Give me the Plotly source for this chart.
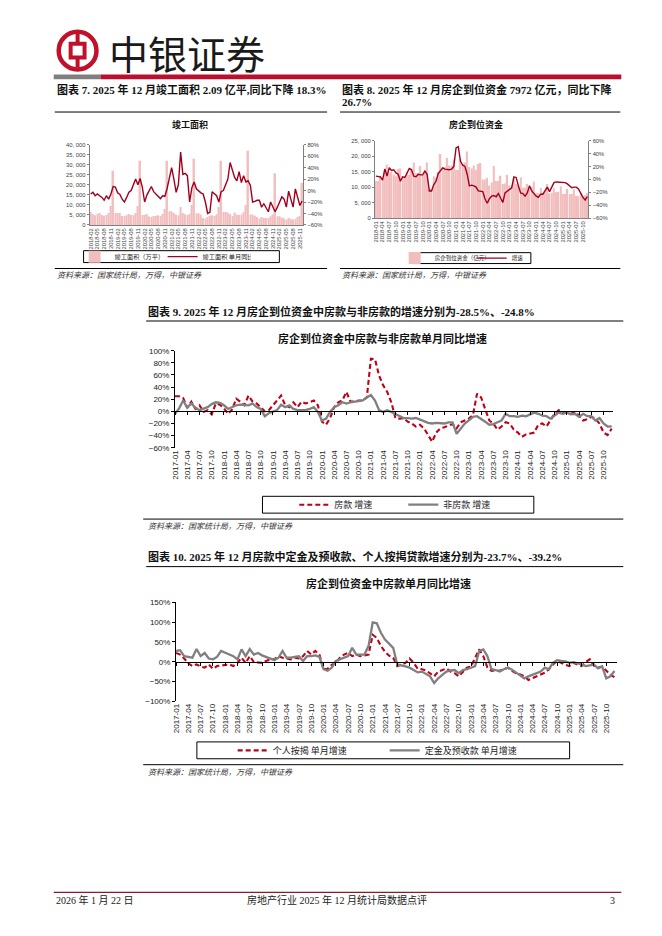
import plotly.graph_objects as go

W, H = 662, 936
OFF = 8  # page body margin compensation


def px(x):
    return (x - OFF) / W


def py(y):
    return 1 - (y - OFF) / H


def month_range(y0, m0, y1, m1):
    out = []
    y, m = y0, m0
    while (y, m) <= (y1, m1):
        out.append(f"{y}-{m:02d}")
        m += 1
        if m > 12:
            m = 1
            y += 1
    return out


# ---------------- data ----------------
months7 = month_range(2018, 2, 2025, 12)
area7 = [
    6500, 5500, 4800, 5600, 6000, 5000, 4600, 5000, 6000, 9500, 27000,
    6000, 6000, 6000, 4500, 4500, 4800, 5500, 5000, 5000, 6000, 9500, 32000,
    5000, 5000, 5500, 4200, 4000, 4500, 4500, 4800, 4400, 5500, 8000, 32000,
    6800, 6800, 6000, 5200, 4800, 9000, 6000, 5300, 5000, 5500, 10000, 33000,
    5800, 5800, 5200, 3500, 3200, 4000, 4400, 4800, 4500, 5300, 9000, 32000,
    6500, 6500, 6200, 5500, 4500, 6200, 5200, 5000, 5200, 6300, 10000, 37000,
    5200, 5200, 4600, 4000, 3200, 4000, 3400, 3400, 3500, 4300, 5200, 25800,
    4300, 4300, 3600, 3300, 2600, 3400, 3000, 2700, 3000, 3900, 4500, 20900,
]
yoy7 = [
    -6, -3, -9, -6, -9, -12, -17, -9, -15, -6, 7,
    6, -4, -7, -15, -20, -12, -3, 0, 12, 20, 10, 21,
    5, -20, -8, -1, 7, -2, -6, -10, -14, -9, -10, 4,
    20, 40, 20, -3, 10, 67, 28, 30, 26, -20, 5, 15,
    3, -1, -4, -6, -20, -40, -38, -2, -5, -9, -20, -2,
    0, 9, 20, 49, 35, 23, 17, 33, 14, 26, 15, 17,
    9, -20, -19, -17, -17, -29, -23, -30, -37, -20, -30, -37,
    -29, -20, -11, -15, -29, -1, -15, -29, 3, -10, -26, -18.3,
]

months8 = month_range(2018, 1, 2025, 12)
funds8 = [
    12000, 12000, 13500, 12500, 16000, 17300, 14500, 15000, 14000, 13500, 15800, 16000,
    13000, 13000, 15000, 14000, 16000, 18000, 14500, 14500, 16800, 14000, 15000, 18000,
    9500, 9500, 13500, 13000, 15000, 20700, 16500, 16500, 19500, 17000, 17000, 19000,
    15500, 15500, 19000, 17500, 18000, 21500, 16500, 16000, 17000, 15500, 17500, 17800,
    12500, 12500, 13000, 10500, 11500, 16800, 12000, 12000, 13700, 11000, 11200, 14000,
    10500, 10500, 13000, 11000, 10500, 13200, 9800, 9800, 11000, 9500, 10000, 11800,
    8000, 8000, 9700, 8200, 8700, 11000, 8000, 8200, 9600, 8300, 8500, 10300,
    7800, 7800, 9500, 7800, 7800, 9300, 7200, 7000, 8200, 7000, 7400, 7972,
]
yoy8 = [
    5, 5, 4, -1, 16, 5, 18, 14, 15, 10, 8, -3,
    4, 3, 10, 17, 15, 5, 4, 8, 7, 7, 13, 8,
    -18, -18, -8, -3, 9, 14, 18, 16, 15, 15, 16, 20,
    49, 51, 28, 22, 20, 8, -10, -9, -10, -12, -18, -19,
    -19, -30, -37, -30, -26, -25, -27, -22, -30, -36, -21, -18,
    -15, -13, 4, 3, -10, -21, -22, -26, -21, -10, -18, -23,
    -26, -28, -23, -23, -18, -12, -19, -13, -5, -4, -4, -4,
    -4, -5, -7, -10, -13, -12, -12, -15, -22, -28, -32, -26.7,
]

months9 = month_range(2017, 1, 2025, 12)
house_sales9 = [
    25, 25, 22, 6, 16, 4, 10, -1, 2, -5, 13, 11,
    5, -4, 3, 21, 16, 10, 26, 16, 13, 7, 0, 2,
    10, 18, 26, 10, 7, 15, 7, 16, 13, 15, 18, 10,
    -17, -22, -11, 7, 15, 18, 32, 16, 16, 18, 18, 23,
    87, 86, 59, 43, 32, 15, -11, -12, -11, -17, -20, -25,
    -22, -28, -38, -50, -35, -28, -26, -24, -21, -28, -18, -15,
    -12, -6, 29, 23, 2, -15, -20, -30, -25, -18, -20, -30,
    -35, -42, -38, -36, -35, -22, -20, -25, -15, -4, 2, -1,
    -2, -4, -1, -7, -15, -13, -9, -12, -20, -35, -39, -28.5,
]
non_house9 = [
    -4, 5, 18, 6, 13, 6, 2, 4, 7, 12, 15, 14,
    10, 4, 7, 10, 11, 10, 10, 13, 7, 4, -8, -3,
    -1, 2, 11, 7, 10, 4, 2, 2, 2, 4, 7, -1,
    -15, -12, -1, 7, 10, 15, 13, 15, 16, 17, 18, 23,
    27, 18, 2, -1, 2, -1, -4, -7, -11, -11, -12, -11,
    -13, -16, -19, -20, -19, -19, -20, -18, -18, -37, -28, -20,
    -15, -9, -8, -12, -17, -22, -21, -18, -15, -4, -8, -8,
    -9, -7, -8, -5, -2, -4, -7, -8, -12, -7, -2, -4,
    -2, -5, -4, -9, -4, -8, -8, -15, -11, -20, -25, -24.8,
]

months10 = month_range(2017, 1, 2025, 12)
mortgage10 = [
    22, 18, 8, -4, -11, -7, -12, -15, -7, -18, -11, -10,
    -9, -7, -11, -3, 10, -3, 14, -1, -2, -3, 2, 6,
    6, 14, 10, 8, 6, 10, 8, 14, 27, 18, 27, 18,
    -19, -18, -8, -3, 10, 18, 22, 14, 18, 14, 16, 18,
    68, 60, 40, 25, 15, 10, -11, -7, -3, 8, -3, -18,
    -19, -22, -29, -37, -25, -21, -17, -25, -29, -37, -25, -15,
    -12, 10, 31, 14, -15, -23, -22, -23, -19, -15, -23, -29,
    -32, -37, -46, -42, -37, -33, -28, -19, -7, 2, -4, -8,
    -11, -3, -7, -11, -1, 6, -10, -15, -12, -23, -33, -39.2,
]
deposit10 = [
    27, 29, 14, 12, 10, 32, 14, 22, 8, 6, 12, 27,
    22, 18, 14, 6, 31, 14, 32, 18, 22, 16, 12, 8,
    4, 10, 27, 10, 10, 12, 14, 2, 14, 14, 16, 12,
    -19, -23, -15, 2, 6, 10, 14, 35, 18, 18, 18, 40,
    99, 97, 73, 56, 45, 35, -7, -9, -12, -15, -21, -27,
    -25, -30, -37, -54, -42, -33, -25, -22, -21, -29, -21, -19,
    -15, -11, 27, 31, 14, -19, -21, -25, -19, -15, -20, -27,
    -33, -42, -37, -33, -28, -25, -15, -19, -3, 4, 2, 1,
    -3, -1, -4, -8, -11, -9, -7, -17, -12, -42, -37, -23.7,
]

ticks7_left = list(range(0, 40001, 5000))
ticks8_left = list(range(0, 25001, 5000))

# ---------------- styles ----------------
SANS = "Liberation Sans, Arial, Noto Sans CJK SC"
SERIF = "Liberation Serif, Noto Sans CJK SC"
CJK = "Noto Sans CJK SC"
BAR_PINK = "#F2BDBD"
DARK_RED = "#A0001E"
RED = "#C00018"
GRAY = "#808080"
AX_GRAY = "#808080"
DASH = "5px,3px"

fig = go.Figure()

# chart 7
fig.add_trace(go.Bar(x=months7, y=area7, name="竣工面积（万平）", marker=dict(color=BAR_PINK, line=dict(width=0)),
                     xaxis="x", yaxis="y", legend="legend"))
fig.add_trace(go.Scatter(x=months7, y=yoy7, name="竣工面积 单月同比", mode="lines",
                         line=dict(color=DARK_RED, width=1.4), xaxis="x", yaxis="y2", legend="legend"))
# chart 8
fig.add_trace(go.Bar(x=months8, y=funds8, name="房企到位资金（亿元）", marker=dict(color=BAR_PINK, line=dict(width=0)),
                     xaxis="x2", yaxis="y3", legend="legend2"))
fig.add_trace(go.Scatter(x=months8, y=yoy8, name="增速", mode="lines",
                         line=dict(color=DARK_RED, width=1.4), xaxis="x2", yaxis="y4", legend="legend2"))
# chart 9
fig.add_trace(go.Scatter(x=months9, y=house_sales9, name="房款 增速", mode="lines",
                         line=dict(color=RED, width=2.1, dash=DASH), xaxis="x3", yaxis="y5", legend="legend3"))
fig.add_trace(go.Scatter(x=months9, y=non_house9, name="非房款 增速", mode="lines",
                         line=dict(color=GRAY, width=2.3), xaxis="x3", yaxis="y5", legend="legend3"))
fig.add_trace(go.Scatter(x=months9, y=[None] * len(months9), showlegend=False, hoverinfo="skip",
                         xaxis="x5", yaxis="y5"))
# chart 10
fig.add_trace(go.Scatter(x=months10, y=mortgage10, name="个人按揭 单月增速", mode="lines",
                         line=dict(color=RED, width=2.1, dash=DASH), xaxis="x4", yaxis="y6", legend="legend4"))
fig.add_trace(go.Scatter(x=months10, y=deposit10, name="定金及预收款 单月增速", mode="lines",
                         line=dict(color=GRAY, width=2.3), xaxis="x4", yaxis="y6", legend="legend4"))
fig.add_trace(go.Scatter(x=months10, y=[None] * len(months10), showlegend=False, hoverinfo="skip",
                         xaxis="x6", yaxis="y6"))

small_tick = dict(size=5.8, family=SANS, color="#404040")
mid_tick = dict(size=8, family=SANS, color="#222")

d7x, d7y = [px(86), px(301)], [py(223), py(142)]
d8x, d8y = [px(373), px(588)], [py(216), py(138)]
d9x, d9y = [px(172), px(613)], [py(448), py(350)]
d10x, d10y = [px(173), px(617)], [py(704), py(604)]

r9 = [-60, 100]
r10 = [-100, 150]
zero9 = d9y[0] + (0 - r9[0]) / (r9[1] - r9[0]) * (d9y[1] - d9y[0])
zero10 = d10y[0] + (0 - r10[0]) / (r10[1] - r10[0]) * (d10y[1] - d10y[0])

fig.update_layout(
    width=W, height=H, margin=dict(l=0, r=0, t=0, b=0),
    paper_bgcolor="white", plot_bgcolor="rgba(0,0,0,0)",
    bargap=0.3, showlegend=True,
    xaxis=dict(domain=d7x, anchor="y", type="category", range=[-0.5, len(months7) - 0.5],
               tickmode="array", tickvals=months7[::3], tickangle=-90, tickfont=small_tick,
               showline=True, linecolor=AX_GRAY, linewidth=1, ticks="", showgrid=False),
    yaxis=dict(domain=d7y, anchor="x", range=[0, 40000], tickmode="array", tickvals=ticks7_left,
               ticktext=[f"{v:,}".replace(",", ", ") for v in ticks7_left], tickfont=small_tick,
               showline=True, linecolor=AX_GRAY, ticks="outside", ticklen=2, tickcolor=AX_GRAY,
               showgrid=False, zeroline=False),
    yaxis2=dict(overlaying="y", side="right", anchor="x", range=[-60, 80], dtick=20, ticksuffix="%",
                tickfont=small_tick, showline=True, linecolor=AX_GRAY, ticks="outside", ticklen=2,
                tickcolor=AX_GRAY, showgrid=False, zeroline=False),
    xaxis2=dict(domain=d8x, anchor="y3", type="category", range=[-0.5, len(months8) - 0.5],
                tickmode="array", tickvals=months8[::3], tickangle=-90, tickfont=small_tick,
                showline=True, linecolor=AX_GRAY, ticks="", showgrid=False),
    yaxis3=dict(domain=d8y, anchor="x2", range=[0, 25000], tickmode="array", tickvals=ticks8_left,
                ticktext=[f"{v:,}".replace(",", ", ") for v in ticks8_left], tickfont=small_tick,
                showline=True, linecolor=AX_GRAY, ticks="outside", ticklen=2, tickcolor=AX_GRAY,
                showgrid=False, zeroline=False),
    yaxis4=dict(overlaying="y3", side="right", anchor="x2", range=[-60, 60], dtick=20, ticksuffix="%",
                tickfont=small_tick, showline=True, linecolor=AX_GRAY, ticks="outside", ticklen=2,
                tickcolor=AX_GRAY, showgrid=False, zeroline=False),
    xaxis3=dict(domain=d9x, anchor="y5", type="category", range=[0, len(months9) - 0.6],
                tickmode="array", tickvals=months9[::3], tickangle=-90, tickfont=mid_tick,
                showline=False, ticks="", showgrid=False),
    yaxis5=dict(domain=d9y, anchor="x3", range=r9, dtick=20, ticksuffix="%", tickfont=mid_tick,
                showline=True, linecolor="black", ticks="outside", ticklen=3, tickcolor="black",
                showgrid=False, zeroline=False),
    xaxis5=dict(overlaying="x3", anchor="free", position=zero9, type="category",
                range=[0, len(months9) - 0.6], tickmode="array", tickvals=months9[::3],
                showticklabels=False, showline=True, linecolor="black", ticks="outside", ticklen=3,
                tickcolor="black", showgrid=False),
    xaxis4=dict(domain=d10x, anchor="y6", type="category", range=[0, len(months10) - 0.3],
                tickmode="array", tickvals=months10[::3], tickangle=-90, tickfont=mid_tick,
                showline=False, ticks="", showgrid=False),
    yaxis6=dict(domain=d10y, anchor="x4", range=r10, dtick=50, ticksuffix="%", tickfont=mid_tick,
                showline=True, linecolor="black", ticks="outside", ticklen=3, tickcolor="black",
                showgrid=False, zeroline=False),
    xaxis6=dict(overlaying="x4", anchor="free", position=zero10, type="category",
                range=[0, len(months10) - 0.3], tickmode="array", tickvals=months10[::3],
                showticklabels=False, showline=True, linecolor="black", ticks="outside", ticklen=3,
                tickcolor="black", showgrid=False),
    legend=dict(x=px(71), y=py(255), xanchor="left", yanchor="middle", orientation="h",
                bgcolor="rgba(0,0,0,0)", borderwidth=0, font=dict(size=6.2, family=CJK, color="#222"),
                entrywidth=43, itemwidth=30, tracegroupgap=0),
    legend2=dict(x=px(393), y=py(256.5), xanchor="left", yanchor="middle", orientation="h",
                 bgcolor="rgba(0,0,0,0)", borderwidth=0, font=dict(size=5.5, family=CJK, color="#222"),
                 entrywidth=32, itemwidth=30),
    legend3=dict(x=px(292), y=py(505.5), xanchor="left", yanchor="middle", orientation="h",
                 bgcolor="rgba(0,0,0,0)", borderwidth=0, font=dict(size=9, family=CJK, color="#222"),
                 entrywidth=64, itemwidth=30),
    legend4=dict(x=px(230), y=py(753.5), xanchor="left", yanchor="middle", orientation="h",
                 bgcolor="rgba(0,0,0,0)", borderwidth=0, font=dict(size=9, family=CJK, color="#222"),
                 entrywidth=107, itemwidth=30),
)

shapes = []


def hline(x0, x1, y, color="black", width=1):
    shapes.append(dict(type="line", xref="paper", yref="paper", x0=px(x0), x1=px(x1), y0=py(y), y1=py(y),
                       line=dict(color=color, width=width)))


def box(x0, y0, x1, y1):
    shapes.append(dict(type="rect", xref="paper", yref="paper", x0=px(x0), x1=px(x1), y0=py(y1), y1=py(y0),
                       line=dict(color="black", width=1), fillcolor="rgba(0,0,0,0)"))


# header bars
shapes.append(dict(type="rect", xref="paper", yref="paper", x0=px(50), x1=px(97), y0=py(76), y1=py(71),
                   line=dict(width=0), fillcolor="#7F7F7F"))
shapes.append(dict(type="rect", xref="paper", yref="paper", x0=px(97), x1=px(621), y0=py(76), y1=py(71),
                   line=dict(width=0), fillcolor="#B8102E"))
# logo
LOGO = "#C0102A"
shapes.append(dict(type="circle", xref="paper", yref="paper", x0=px(55), x1=px(93), y0=py(66), y1=py(28),
                   line=dict(color=LOGO, width=4.5), fillcolor="white"))
shapes.append(dict(type="rect", xref="paper", yref="paper", x0=px(67), x1=px(81), y0=py(54), y1=py(40),
                   line=dict(color=LOGO, width=4), fillcolor="white"))
shapes.append(dict(type="line", xref="paper", yref="paper", x0=px(74), x1=px(74), y0=py(30), y1=py(40),
                   line=dict(color=LOGO, width=4)))
shapes.append(dict(type="line", xref="paper", yref="paper", x0=px(74), x1=px(74), y0=py(54), y1=py(64),
                   line=dict(color=LOGO, width=4)))

# title rules / source rules
hline(51, 325, 109)
hline(338, 620, 109)
hline(51, 325, 267)
hline(338, 620, 267)
hline(143, 623, 320)
hline(140, 623, 520)
hline(143, 623, 568)
hline(140, 623, 768)
hline(50, 621, 897, color="#8B1A2B", width=1.2)

# legend boxes
box(80, 249, 277, 261)
box(412, 251, 530, 262)
box(260, 497, 533, 514)
box(194, 745, 569, 762)

fig.update_layout(shapes=shapes)

ann = []


def text(x, y, s, size, family=SERIF, xanchor="left", color="#111", yanchor="middle", align="left"):
    ann.append(dict(x=px(x), y=py(y), xref="paper", yref="paper", text=s, showarrow=False,
                    xanchor=xanchor, yanchor=yanchor, align=align,
                    font=dict(size=size, family=family, color=color)))


text(104, 48, "中银证券", 39, family=CJK, color="#1a1a1a")
text(51, 86.5, "<b>图表 7. 2025 年 12 月竣工面积 2.09 亿平,同比下降 18.3%</b>", 11)
text(338, 86.5, "<b>图表 8. 2025 年 12 月房企到位资金 7972 亿元，同比下降</b>", 11)
text(338, 99, "<b>26.7%</b>", 11)
text(187, 122, "<b>竣工面积</b>", 9, family=CJK, xanchor="center")
text(475, 122, "<b>房企到位资金</b>", 9, family=CJK, xanchor="center")
text(143, 310, "<b>图表 9. 2025 年 12 月房企到位资金中房款与非房款的增速分别为-28.5%、-24.8%</b>", 11)
text(381, 337, "<b>房企到位资金中房款与非房款单月同比增速</b>", 11, family=CJK, xanchor="center")
text(143, 558, "<b>图表 10. 2025 年 12 月房款中定金及预收款、个人按揭贷款增速分别为-23.7%、-39.2%</b>", 11)
text(387, 585, "<b>房企到位资金中房款单月同比增速</b>", 11, family=CJK, xanchor="center")
src = "<i>资料来源：国家统计局，万得，中银证券</i>"
text(51, 273, src, 8, family=CJK, color="#333")
text(338, 273, src, 8, family=CJK, color="#333")
text(143, 526, src, 8, family=CJK, color="#333")
text(143, 775, src, 8, family=CJK, color="#333")
text(50, 905, "2026 年 1 月 22 日", 10, color="#222")
text(335, 905, "房地产行业 2025 年 12 月统计局数据点评", 10, color="#222", xanchor="center")
text(617, 905, "3", 10, color="#222", xanchor="right")

fig.update_layout(annotations=ann)

fig.write_html("out.html")
